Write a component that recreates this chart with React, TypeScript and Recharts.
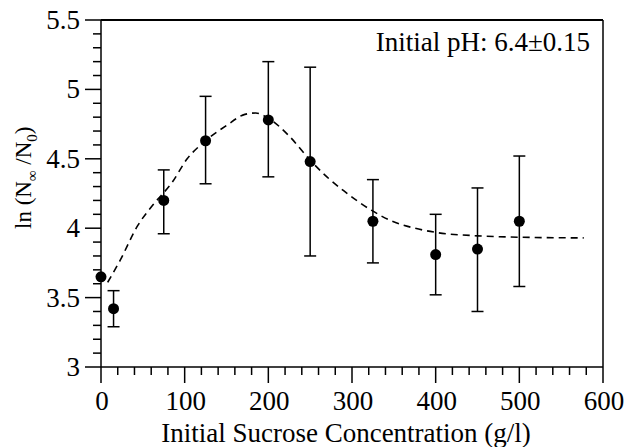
import React from 'react';
import {
  ComposedChart,
  Scatter,
  Line,
  XAxis,
  YAxis,
  ErrorBar,
  ReferenceLine,
} from 'recharts';

// measured points: initial sucrose (g/l) vs ln(N∞/N0)
const sucrose = [0, 15, 75, 125, 200, 250, 325, 400, 450, 500];
const lnRatio = [3.65, 3.42, 4.2, 4.63, 4.78, 4.48, 4.05, 3.81, 3.85, 4.05];
const lowerBound = [null, 3.29, 3.96, 4.32, 4.37, 3.8, 3.75, 3.52, 3.4, 3.58];
const upperBound = [null, 3.55, 4.42, 4.95, 5.2, 5.16, 4.35, 4.1, 4.29, 4.52];

// fitted curve (dashed)
const fitSucrose = [8, 23, 44, 61, 85, 103, 125, 150, 172, 185, 198, 224, 250, 270, 290, 323, 348, 375, 400, 450, 500, 577];
const fitLnRatio = [3.61, 3.77, 4.02, 4.16, 4.33, 4.5, 4.63, 4.74, 4.82, 4.83, 4.8, 4.67, 4.49, 4.37, 4.27, 4.13, 4.05, 4.0, 3.97, 3.945, 3.935, 3.93];

const xMajorTicks = [0, 100, 200, 300, 400, 500, 600];
const xMinorStep = 20;
const yMajorTicks = [3, 3.5, 4, 4.5, 5, 5.5];
const yMinorStep = 0.1;

const xTicks: number[] = [];
for (let v = 0; v <= 600; v += xMinorStep) xTicks.push(v);
const yTicks: number[] = [];
for (let i = 0; i <= 25; i++) yTicks.push(Math.round((3 + i * yMinorStep) * 10) / 10);

const points = sucrose.map((x, i) => ({
  x,
  y: lnRatio[i],
  err: lowerBound[i] == null ? null : [lnRatio[i] - (lowerBound[i] as number), (upperBound[i] as number) - lnRatio[i]],
}));
const fit = fitSucrose.map((x, i) => ({ x, y: fitLnRatio[i] }));

const FONT = '"Liberation Serif", "Times New Roman", serif';
const PLOT_LEFT = 101;
const PLOT_BOTTOM = 367;

const XTick = (props: any) => {
  const { x, payload } = props;
  const major = xMajorTicks.includes(payload.value);
  return (
    <g>
      <line x1={x} x2={x} y1={PLOT_BOTTOM} y2={PLOT_BOTTOM + (major ? 16 : 8)} stroke="#000" strokeWidth={1.5} />
      {major && (
        <text x={x + 1} y={410} textAnchor="middle" fontFamily={FONT} fontSize={27} fill="#000">
          {payload.value}
        </text>
      )}
    </g>
  );
};

const YTick = (props: any) => {
  const { y, payload } = props;
  const major = yMajorTicks.some((t) => Math.abs(t - payload.value) < 1e-6);
  return (
    <g>
      <line x1={PLOT_LEFT - (major ? 16 : 8)} x2={PLOT_LEFT} y1={y} y2={y} stroke="#000" strokeWidth={1.5} />
      {major && (
        <text x={80} y={y + 9} textAnchor="end" fontFamily={FONT} fontSize={27} fill="#000">
          {payload.value}
        </text>
      )}
    </g>
  );
};

const Dot = (props: any) => <circle cx={props.cx} cy={props.cy} r={5.5} fill="#000" />;

export default function App() {
  return (
    <div style={{ position: 'absolute', left: 0, top: 0, width: 627, height: 447, background: '#fff' }}>
      <ComposedChart width={627} height={447} margin={{ top: 20, right: 24, bottom: 0, left: 0 }}>
        <XAxis
          type="number"
          dataKey="x"
          domain={[0, 600]}
          ticks={xTicks}
          interval={0}
          tick={XTick}
          tickLine={false}
          axisLine={{ stroke: '#000', strokeWidth: 1.5 }}
          height={80}
          label={{
            content: () => (
              <text x={346} y={442} textAnchor="middle" fontFamily={FONT} fontSize={27} fill="#000">
                Initial Sucrose Concentration (g/l)
              </text>
            ),
          }}
        />
        <YAxis
          type="number"
          domain={[3, 5.5]}
          ticks={yTicks}
          interval={0}
          tick={YTick}
          tickLine={false}
          axisLine={{ stroke: '#000', strokeWidth: 1.5 }}
          width={101}
          label={{
            content: () => (
              <text
                transform="translate(31,229) rotate(-90)"
                fontFamily={FONT}
                fontSize={23}
                fill="#000"
              >
                ln (N
                <tspan dy={6} fontSize={15}>∞</tspan>
                <tspan dy={-6}> /N</tspan>
                <tspan dy={6} fontSize={15}>0</tspan>
                <tspan dy={-6}>)</tspan>
              </text>
            ),
          }}
        />
        <ReferenceLine y={5.5} stroke="#000" strokeWidth={2} />
        <ReferenceLine x={600} stroke="#000" strokeWidth={1.5} />
        <Line
          data={fit}
          dataKey="y"
          type="monotone"
          stroke="#000"
          strokeWidth={1.6}
          strokeDasharray="7 5"
          dot={false}
          isAnimationActive={false}
        />
        <Scatter data={points} dataKey="y" shape={Dot} isAnimationActive={false}>
          <ErrorBar dataKey="err" direction="y" width={6} stroke="#000" strokeWidth={1.5} />
        </Scatter>
      </ComposedChart>
      <div
        style={{
          position: 'absolute',
          right: 37,
          top: 25,
          fontFamily: FONT,
          fontSize: 27,
          lineHeight: '34px',
          color: '#000',
          whiteSpace: 'nowrap',
        }}
      >
        Initial pH: 6.4±0.15
      </div>
    </div>
  );
}
